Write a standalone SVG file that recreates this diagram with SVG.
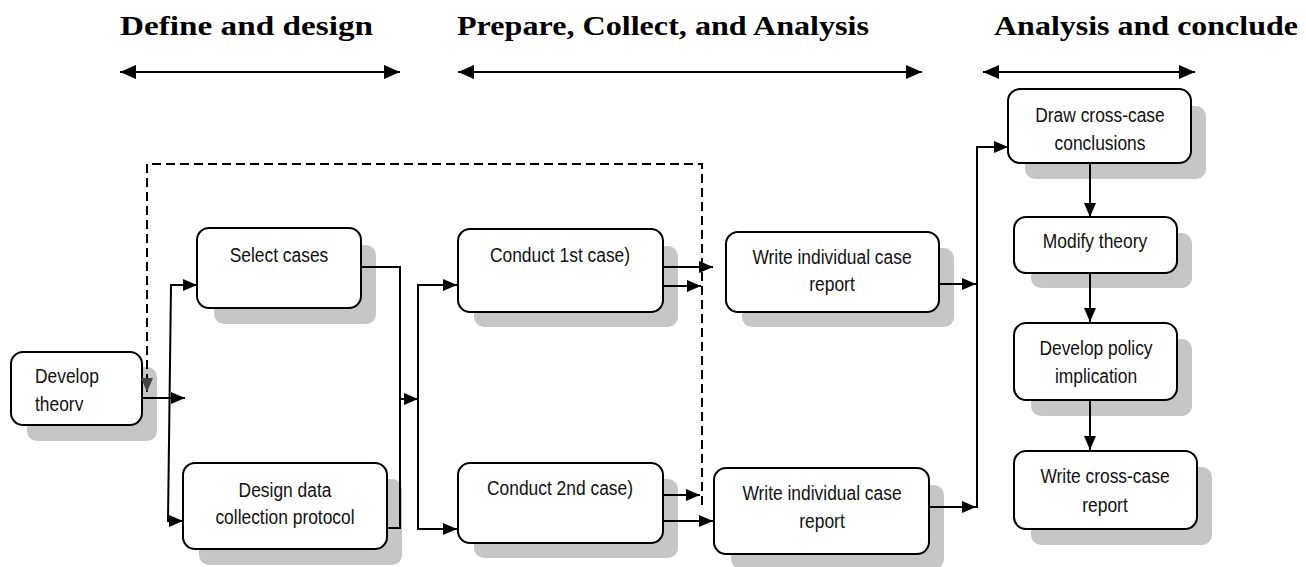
<svg xmlns="http://www.w3.org/2000/svg" width="1306" height="567" viewBox="0 0 1306 567">
<style>
.hdr{font-family:"Liberation Serif","Times New Roman",serif;font-weight:bold;font-size:28px;fill:#000}
.box{fill:#fff;stroke:#000;stroke-width:2}
.sh{fill:#c6c6c6}
.lbl{font-family:"Liberation Sans",Arial,sans-serif;font-size:20px;fill:#111;text-anchor:middle}
.ln{fill:none;stroke:#000;stroke-width:2}
.dash{fill:none;stroke:#000;stroke-width:2;stroke-dasharray:9 5}
</style>
<defs>
<marker id="arr" viewBox="0 0 14 12" refX="14" refY="6" markerWidth="14" markerHeight="12" markerUnits="userSpaceOnUse" orient="auto">
<path d="M0,0 L14,6 L0,12 z" fill="#000"/>
</marker>
<marker id="arrg" viewBox="0 0 14 12" refX="14" refY="6" markerWidth="14" markerHeight="12" markerUnits="userSpaceOnUse" orient="auto">
<path d="M0,0 L14,6 L0,12 z" fill="#444"/>
</marker>
<marker id="harr" viewBox="0 0 16 14" refX="16" refY="7" markerWidth="16" markerHeight="14" markerUnits="userSpaceOnUse" orient="auto-start-reverse">
<path d="M0,0 L16,7 L0,14 z" fill="#000"/>
</marker>
<clipPath id="clipDev"><rect x="0" y="340" width="160" height="71"/></clipPath>
</defs>

<g id="headers">
<text class="hdr" x="120" y="35" textLength="253" lengthAdjust="spacingAndGlyphs">Define and design</text>
<text class="hdr" x="457" y="35" textLength="412" lengthAdjust="spacingAndGlyphs">Prepare, Collect, and Analysis</text>
<text class="hdr" x="994" y="35" textLength="304" lengthAdjust="spacingAndGlyphs">Analysis and conclude</text>
<path class="ln" d="M120,72 H400" marker-start="url(#harr)" marker-end="url(#harr)"/>
<path class="ln" d="M458,72 H922" marker-start="url(#harr)" marker-end="url(#harr)"/>
<path class="ln" d="M983,72 H1195" marker-start="url(#harr)" marker-end="url(#harr)"/>
</g>

<g id="node-develop-theory">
<rect class="sh" x="27" y="367" width="130" height="74" rx="10"/>
<rect class="box" x="11" y="352" width="131" height="73" rx="12"/>
<g clip-path="url(#clipDev)">
<text class="lbl" style="text-anchor:start" transform="translate(35 383) scale(0.87 1)">Develop</text>
<text class="lbl" style="text-anchor:start" transform="translate(35 411) scale(0.87 1)">theory</text>
</g>
</g>

<g id="node-select-cases">
<rect class="sh" x="214" y="245" width="162" height="79" rx="10"/>
<rect class="box" x="197" y="228" width="164" height="80" rx="12"/>
<text class="lbl" transform="translate(279 262) scale(0.87 1)">Select cases</text>
</g>

<g id="node-design-protocol">
<rect class="sh" x="199" y="479" width="203" height="86" rx="10"/>
<rect class="box" x="183" y="463" width="204" height="86" rx="12"/>
<text class="lbl" transform="translate(285 497) scale(0.87 1)">Design data</text>
<text class="lbl" transform="translate(285 524) scale(0.87 1)">collection protocol</text>
</g>

<g id="node-conduct-1">
<rect class="sh" x="474" y="246" width="204" height="81" rx="10"/>
<rect class="box" x="458" y="229" width="205" height="83" rx="12"/>
<text class="lbl" transform="translate(560 262) scale(0.87 1)">Conduct 1st case)</text>
</g>

<g id="node-conduct-2">
<rect class="sh" x="474" y="479" width="204" height="79" rx="10"/>
<rect class="box" x="458" y="463" width="205" height="80" rx="12"/>
<text class="lbl" transform="translate(560 495) scale(0.87 1)">Conduct 2nd case)</text>
</g>

<g id="node-report-1">
<rect class="sh" x="742" y="248" width="212" height="79" rx="10"/>
<rect class="box" x="726" y="232" width="213" height="80" rx="12"/>
<text class="lbl" transform="translate(832 264) scale(0.87 1)">Write individual case</text>
<text class="lbl" transform="translate(832 291) scale(0.87 1)">report</text>
</g>

<g id="node-report-2">
<rect class="sh" x="731" y="485" width="213" height="84" rx="10"/>
<rect class="box" x="714" y="468" width="215" height="86" rx="12"/>
<text class="lbl" transform="translate(822 500) scale(0.87 1)">Write individual case</text>
<text class="lbl" transform="translate(822 528) scale(0.87 1)">report</text>
</g>

<g id="node-cross-conclusions">
<rect class="sh" x="1025" y="106" width="181" height="73" rx="10"/>
<rect class="box" x="1008" y="89" width="183" height="74" rx="12"/>
<text class="lbl" transform="translate(1100 122) scale(0.87 1)">Draw cross-case</text>
<text class="lbl" transform="translate(1100 150) scale(0.87 1)">conclusions</text>
</g>

<g id="node-modify-theory">
<rect class="sh" x="1031" y="233" width="161" height="55" rx="10"/>
<rect class="box" x="1014" y="217" width="163" height="56" rx="12"/>
<text class="lbl" transform="translate(1095 248) scale(0.87 1)">Modify theory</text>
</g>

<g id="node-policy">
<rect class="sh" x="1031" y="339" width="161" height="77" rx="10"/>
<rect class="box" x="1014" y="323" width="163" height="77" rx="12"/>
<text class="lbl" transform="translate(1096 355) scale(0.87 1)">Develop policy</text>
<text class="lbl" transform="translate(1096 383) scale(0.87 1)">implication</text>
</g>

<g id="node-cross-report">
<rect class="sh" x="1031" y="467" width="181" height="78" rx="10"/>
<rect class="box" x="1014" y="451" width="183" height="78" rx="12"/>
<text class="lbl" transform="translate(1105 483) scale(0.87 1)">Write cross-case</text>
<text class="lbl" transform="translate(1105 512) scale(0.87 1)">report</text>
</g>

<g id="connectors">
<path class="dash" d="M702,505 V164 H147 V392" marker-end="url(#arrg)"/>
<path class="ln" d="M142,398 H185" marker-end="url(#arr)"/>
<path class="ln" d="M171,285 L168,521"/>
<path class="ln" d="M170,285 H197" marker-end="url(#arr)"/>
<path class="ln" d="M167,521 H183" marker-end="url(#arr)"/>
<path class="ln" d="M361,267 H400 V528 H387"/>
<path class="ln" d="M400,399 H418" marker-end="url(#arr)"/>
<path class="ln" d="M418,284 V530"/>
<path class="ln" d="M417,285 H457" marker-end="url(#arr)"/>
<path class="ln" d="M417,529 H457" marker-end="url(#arr)"/>
<path class="ln" d="M663,267 H713" marker-end="url(#arr)"/>
<path class="ln" d="M663,286 H701" marker-end="url(#arr)"/>
<path class="ln" d="M663,495 H700" marker-end="url(#arr)"/>
<path class="ln" d="M663,521 H713" marker-end="url(#arr)"/>
<path class="ln" d="M939,284 H976" marker-end="url(#arr)"/>
<path class="ln" d="M929,507 H976" marker-end="url(#arr)"/>
<path class="ln" d="M977,508 V147"/>
<path class="ln" d="M976,147 H1008" marker-end="url(#arr)"/>
<path class="ln" d="M1090,164 V217" marker-end="url(#arr)"/>
<path class="ln" d="M1090,273 V322" marker-end="url(#arr)"/>
<path class="ln" d="M1090,400 V450" marker-end="url(#arr)"/>
</g>
</svg>
